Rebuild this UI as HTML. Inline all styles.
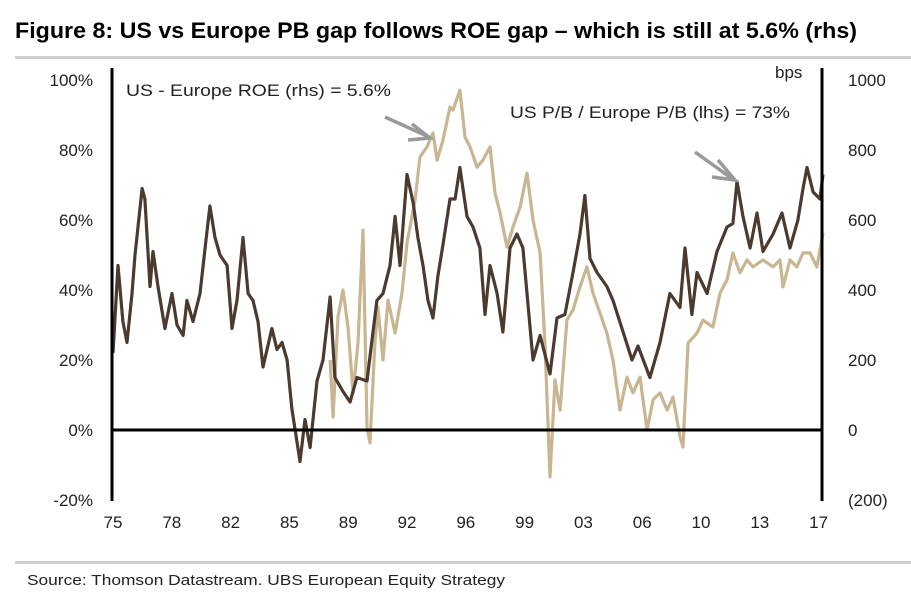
<!DOCTYPE html>
<html><head><meta charset="utf-8"><style>
html,body{margin:0;padding:0;background:#fff;width:911px;height:601px;overflow:hidden}
svg{display:block;font-family:"Liberation Sans Narrow","Liberation Sans",sans-serif}
</style></head><body>
<svg id="chart" width="911" height="601" viewBox="0 0 911 601" xmlns="http://www.w3.org/2000/svg">
<text x="15" y="38" font-size="22" font-weight="bold" fill="#000" textLength="842" lengthAdjust="spacingAndGlyphs">Figure 8: US vs Europe PB gap follows ROE gap – which is still at 5.6% (rhs)</text>
<rect x="15" y="56" width="896" height="3" fill="#cfcfcf"/>
<g id="plot"></g>
<text x="126" y="96" font-size="17" fill="#222" textLength="265" lengthAdjust="spacingAndGlyphs">US - Europe ROE (rhs) = 5.6%</text>
<text x="510" y="118" font-size="17" fill="#222" textLength="280" lengthAdjust="spacingAndGlyphs">US P/B / Europe P/B (lhs) = 73%</text>
<g stroke="#999" stroke-width="3.5" fill="none">
<line x1="385" y1="117" x2="429" y2="137"/><polyline points="412,124 430,138 408,140"/></g>
<g stroke="#999" stroke-width="3.5" fill="none">
<line x1="695" y1="152" x2="734" y2="180"/><polyline points="718,160 735,180 712,177"/></g>
<text x="775" y="78" font-size="17" fill="#222">bps</text>
<rect x="15" y="561" width="896" height="3" fill="#cfcfcf"/>
<text x="27" y="585" font-size="15" fill="#222" textLength="478" lengthAdjust="spacingAndGlyphs">Source:  Thomson Datastream. UBS European Equity Strategy</text>
</svg>
<script>
const pbYears=[1975.06,1975.36,1975.65,1975.89,1976.19,1976.37,1976.79,1976.96,1977.26,1977.44,1977.74,1978.15,1978.57,1978.87,1979.23,1979.46,1979.82,1980.24,1980.54,1980.83,1981.13,1981.43,1981.85,1982.14,1982.44,1982.80,1983.10,1983.39,1983.69,1983.99,1984.52,1984.82,1985.12,1985.42,1985.71,1986.19,1986.49,1986.79,1987.20,1987.56,1987.98,1988.27,1988.75,1989.17,1989.58,1990.18,1990.77,1991.13,1991.55,1991.85,1992.14,1992.56,1992.92,1993.21,1993.51,1993.81,1994.11,1994.40,1994.70,1995.12,1995.42,1995.71,1996.13,1996.49,1996.90,1997.20,1997.50,1997.92,1998.27,1998.69,1999.11,1999.46,2000.06,2000.48,2001.07,2001.49,2001.96,2002.44,2002.86,2003.15,2003.45,2003.87,2004.46,2004.82,2005.42,2005.95,2006.31,2007.02,2007.62,2008.21,2008.81,2009.11,2009.52,2009.82,2010.42,2011.01,2011.61,2011.96,2012.20,2012.56,2012.98,2013.39,2013.75,2014.35,2014.88,2015.36,2015.83,2016.13,2016.37,2016.73,2017.14,2017.32];
const pbValues=[22,47,31,25,39,50,69,66,41,51,41,29,39,30,27,37,31,39,52,64,55,50,47,29,37,55,39,37,31,18,29,23,25,20,6,-9,3,-5,14,20,38,15,11,8,15,14,37,39,47,61,47,73,65,55,47,37,32,44,53,66,66,75,61,58,52,33,47,39,28,52,56,52,20,27,16,32,33,45,56,67,49,45,41,37,28,20,24,15,25,39,35,52,33,45,39,51,58,59,71,61,52,62,51,56,62,52,60,69,75,68,66,73];
const roeYears=[1987.98,1988.16,1988.45,1988.75,1989.05,1989.35,1989.64,1989.94,1990.18,1990.36,1990.65,1990.83,1991.13,1991.43,1991.85,1992.26,1992.56,1993.04,1993.33,1993.75,1994.11,1994.35,1994.70,1995.12,1995.30,1995.71,1996.01,1996.31,1996.73,1997.08,1997.50,1997.80,1998.10,1998.51,1998.87,1999.29,1999.70,2000.06,2000.48,2000.77,2001.07,2001.37,2001.67,2002.08,2002.44,2002.86,2003.27,2003.63,2004.05,2004.46,2004.82,2005.24,2005.65,2006.01,2006.43,2006.85,2007.20,2007.62,2008.04,2008.39,2008.81,2008.99,2009.29,2009.82,2010.18,2010.77,2011.19,2011.61,2011.96,2012.38,2012.80,2013.15,2013.75,2014.35,2014.76,2014.94,2015.36,2015.77,2016.13,2016.55,2016.96,2017.32];
const roeValues=[200,37,323,400,294,106,249,571,9,-37,249,351,200,371,277,391,534,657,780,809,849,771,829,923,914,971,837,809,751,771,809,677,620,523,580,637,734,600,506,249,-134,143,57,314,343,409,466,391,334,277,200,57,151,106,151,0,86,106,57,94,-20,-49,249,277,314,294,391,429,506,449,486,466,486,466,486,409,486,466,506,506,466,563];
const lhsTicks=[100,80,60,40,20,0,-20];
const lhsTickLabels=["100%","80%","60%","40%","20%","0%","-20%"];
const rhsTicks=[1000,800,600,400,200,0,-200];
const rhsTickLabels=["1000","800","600","400","200","0","(200)"];
const xTickYears=[1975,1978.5,1982,1985.5,1989,1992.5,1996,1999.5,2003,2006.5,2010,2013.5,2017];
const xTickLabels=["75","78","82","85","89","92","96","99","03","06","10","13","17"];

const NS="http://www.w3.org/2000/svg";
const X0=112,X1=822;
function xs(yr){return X0+(yr-1975)*16.8;}
function ysL(v){return 430-v*3.5;}
function ysR(v){return 430-v*0.35;}
const plot=document.getElementById('plot');
function mk(tag,attrs){const e=document.createElementNS(NS,tag);for(const k in attrs)e.setAttribute(k,attrs[k]);plot.appendChild(e);return e;}

function path(xsArr,vals,sc){return vals.map((v,i)=>(i?'L':'M')+xs(xsArr[i]).toFixed(1)+','+sc(v).toFixed(1)).join('');}
const roe=mk('path',{d:path(roeYears,roeValues,ysR),fill:'none',stroke:'#c9b591','stroke-width':3.2,'stroke-linejoin':'round'});


const pb=mk('path',{d:path(pbYears,pbValues,ysL),fill:'none',stroke:'#4b3a2d','stroke-width':3.2,'stroke-linejoin':'round'});



const zl=mk('line',{x1:X0,x2:X1,y1:ysL(0),y2:ysL(0),stroke:'#000','stroke-width':3});


const la=mk('line',{x1:X0,x2:X0,y1:68,y2:501,stroke:'#000','stroke-width':3});


const ra=mk('line',{x1:X1,x2:X1,y1:68,y2:501,stroke:'#000','stroke-width':3});



lhsTicks.forEach((v,i)=>{const t=mk('text',{x:93,y:ysL(v)+6,'text-anchor':'end','font-size':17,fill:'#222'});t.textContent=lhsTickLabels[i];

});
rhsTicks.forEach((v,i)=>{const t=mk('text',{x:848,y:ysR(v)+6,'font-size':17,fill:'#222'});t.textContent=rhsTickLabels[i];

});
xTickYears.forEach((y,i)=>{const t=mk('text',{x:xs(y)+1,y:528,'text-anchor':'middle','font-size':17,fill:'#222'});t.textContent=xTickLabels[i];

});
</script>
</body></html>
